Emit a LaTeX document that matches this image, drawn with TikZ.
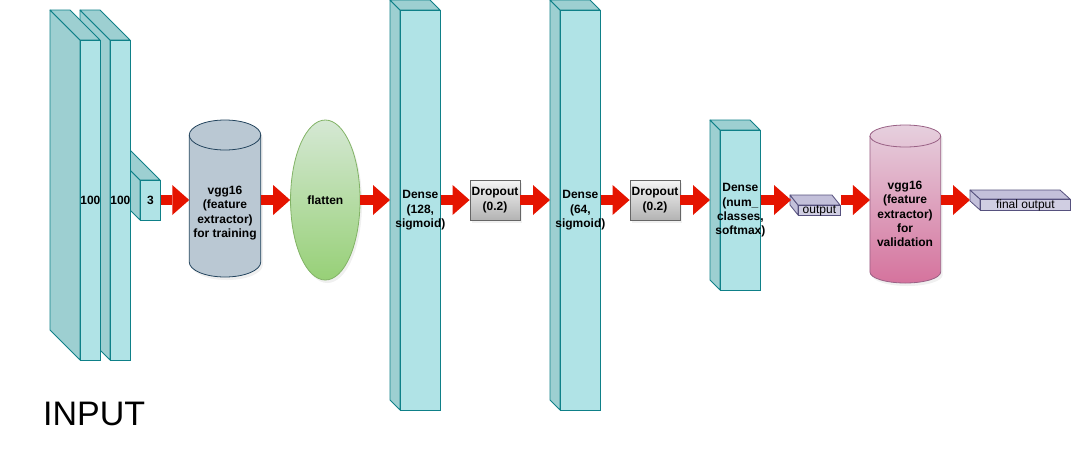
\documentclass[tikz,border=0pt]{standalone}
\usepackage{fontspec}
\setmainfont{Liberation Sans}
\usetikzlibrary{shapes.geometric,arrows.meta,shadows}

\definecolor{tealfill}{HTML}{B0E3E6}
\definecolor{tealdark}{HTML}{9DCFD1}
\definecolor{tealline}{HTML}{0E8088}
\definecolor{lavfill}{HTML}{D0CEE2}
\definecolor{lavdark}{HTML}{C3C0DA}
\definecolor{lavline}{HTML}{56517E}
\definecolor{vggAfill}{HTML}{BAC8D3}
\definecolor{vggAline}{HTML}{23445D}
\definecolor{vggBtop}{HTML}{E6D0DE}
\definecolor{vggBbot}{HTML}{D5739D}
\definecolor{vggBline}{HTML}{996185}
\definecolor{flattop}{HTML}{D5E8D4}
\definecolor{flatbot}{HTML}{97D077}
\definecolor{flatline}{HTML}{82B366}
\definecolor{droptop}{HTML}{F5F5F5}
\definecolor{dropbot}{HTML}{B3B3B3}
\definecolor{dropline}{HTML}{666666}
\definecolor{arrowred}{HTML}{E51400}

\tikzset{
  lbl/.style={font=\bfseries\fontsize{12}{14.3}\selectfont, align=center, inner sep=0pt},
  smalltxt/.style={font=\fontsize{12}{14}\selectfont, inner sep=0pt},
  softshadow/.style={drop shadow={opacity=0.12, shadow xshift=2pt, shadow yshift=-3pt}},
  tealfront/.style={draw=tealline, fill=tealfill, line width=0.8pt, inner sep=0pt},
  tealside/.style={draw=tealline, fill=tealdark, line width=0.8pt, line join=round},
  lavfront/.style={draw=lavline, fill=lavfill, line width=0.8pt, inner sep=0pt},
  lavside/.style={draw=lavline, fill=lavdark, line width=0.8pt, line join=round},
  hull/.style={inner sep=0pt, outer sep=0pt},
  dropbox/.style={lbl, draw=dropline, top color=droptop, bottom color=dropbot,
    line width=0.8pt, minimum width=50pt, minimum height=40pt, softshadow},
  bigarrow/.style={draw=arrowred, line width=10pt,
    -{Triangle[width=30pt,length=17pt,line width=0pt]}},
}

% slab: style, name, left, top, width, height, depth x, depth y
\newcommand{\drawslab}[8]{%
  \filldraw[#1side] (#3,#4) -- ++(-#7,-#8) -- ++(0,#6) -- ++(#7,#8) -- cycle;
  \filldraw[#1side] (#3,#4) -- ++(-#7,-#8) -- ++(#5,0) -- ++(#7,#8) -- cycle;
  \node[#1front, minimum width=#5pt, minimum height=#6pt, anchor=north west] (#2) at (#3,#4) {};
}

% cylinder round a hull node: name, x radius, y radius, fill, line colour
\newcommand{\drawcyl}[5]{%
  \draw[#4, draw=#5, line width=0.8pt, softshadow] ([yshift=-#3]#1.north west) -- ([yshift=#3]#1.south west)
    arc[start angle=180,end angle=360,x radius=#2,y radius=#3]
    -- ([yshift=-#3]#1.north east)
    arc[start angle=0,end angle=180,x radius=#2,y radius=#3] -- cycle;
  \draw[draw=#5, line width=0.8pt] ([yshift=-#3]#1.north west)
    arc[start angle=180,end angle=360,x radius=#2,y radius=#3];
}

\begin{document}
\begin{tikzpicture}[x=1pt, y=-1pt]
\useasboundingbox (0,0) rectangle (1082,475);
\coordinate (row) at (0,200);

% input volume
\drawslab{teal}{in3}{140}{180}{20}{40}{30}{30}
\drawslab{teal}{in2}{110}{40}{20}{320}{30}{30}
\drawslab{teal}{in1}{80}{40}{20}{320}{30}{30}
\node[lbl] (in1txt) at (in1) {100};
\node[lbl] (in2txt) at (in2) {100};
\node[lbl] (in3txt) at (in3) {3};
\node[font=\fontsize{34}{40}\selectfont, anchor=base west, inner sep=0pt] (inptxt) at (43,425) {INPUT};

% feature extractor (training)
\node[hull, minimum width=71.5pt, minimum height=157pt] (vggA) at (225,198.5) {};
\drawcyl{vggA}{35.75pt}{15pt}{fill=vggAfill}{vggAline}
\node[lbl] (vggAtxt) at (225,213) {vgg16\\(feature\\extractor)\\for training};

\node[ellipse, draw=flatline, top color=flattop, bottom color=flatbot, line width=0.8pt,
  minimum width=69.5pt, minimum height=160pt, inner sep=0pt, softshadow,
  font=\bfseries\fontsize{12}{14.3}\selectfont] (flat) at (325.3,200) {flatten};

% dense layers and dropouts
\drawslab{teal}{dnsA}{400}{10}{40}{400}{10}{10}
\node[lbl] (dnsAtxt) at (dnsA) {Dense\\(128,\\sigmoid)};
\node[dropbox] (dropA) at (495,200) {Dropout\\(0.2)};

\drawslab{teal}{dnsB}{560}{10}{40}{400}{10}{10}
\node[lbl] (dnsBtxt) at (dnsB) {Dense\\(64,\\sigmoid)};
\node[dropbox] (dropB) at (655,200) {Dropout\\(0.2)};

\drawslab{teal}{dnsC}{720}{130}{40}{160}{10}{10}
\node[lbl] (dnsCtxt) at (dnsC) {Dense\\(num\_\\classes,\\softmax)};

% outputs
\drawslab{lav}{outA}{798}{205}{42}{10}{8}{10}
\node[smalltxt] (outAtxt) at (outA) {output};

\node[hull, minimum width=70.7pt, minimum height=158pt] (vggB) at (905.3,204) {};
\drawcyl{vggB}{35.35pt}{11pt}{top color=vggBtop, bottom color=vggBbot}{vggBline}
\node[lbl] (vggBtxt) at (905,214) {vgg16\\(feature\\extractor)\\for\\validation};

\drawslab{lav}{outB}{980}{199}{90}{11}{10}{9}
\node[smalltxt] (outBtxt) at (outB) {final output};

% red block arrows
\foreach \a/\b/\s in {in3/vggA/0pt, vggA/flat/0pt, flat/dnsA/10pt, dnsA/dropA/0pt,
    dropA/dnsB/10pt, dnsB/dropB/0pt, dropB/dnsC/10pt, dnsC/outA/7pt,
    outA/vggB/0pt, vggB/outB/10pt}{
  \draw[bigarrow, shorten >=\s] (\a.east |- row) -- (\b.west |- row);
}

\end{tikzpicture}
\end{document}
